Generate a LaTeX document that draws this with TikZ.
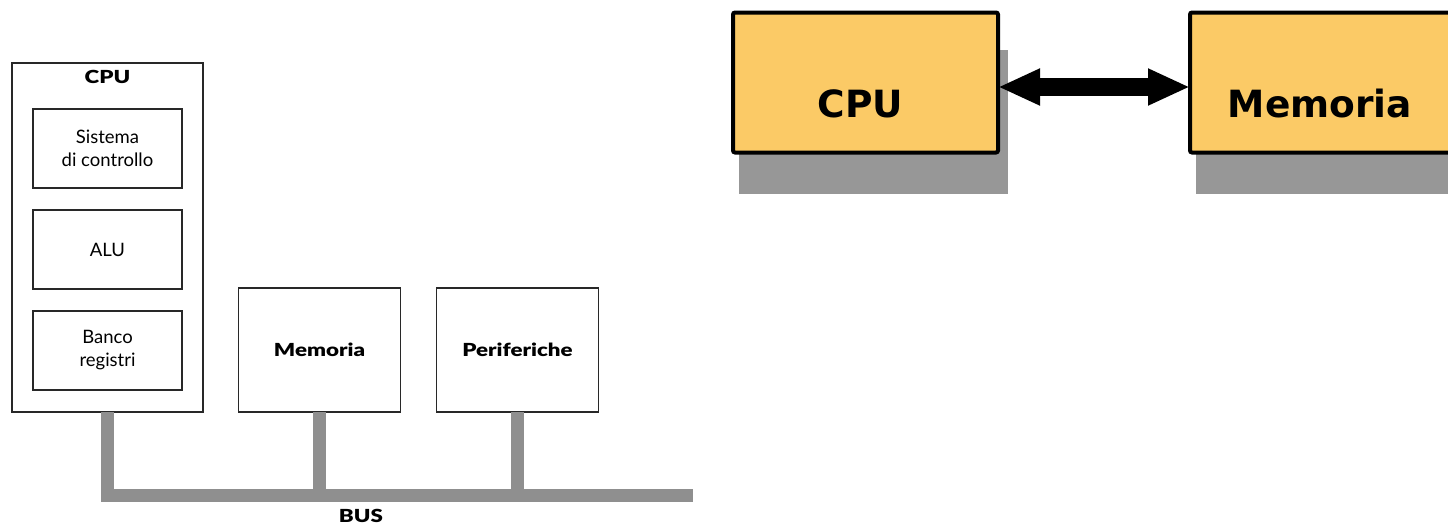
\documentclass[tikz,border=0pt]{standalone}
\usepackage{fontspec}
\setmainfont{Lato}
\newfontfamily\heavyfont{Lato Black}[FakeStretch=1.24]
\newfontfamily\verdanafont{DejaVu Sans}
\usetikzlibrary{arrows.meta}
\definecolor{boxorange}{RGB}{251,202,102}
\definecolor{shadowgray}{RGB}{151,151,151}
\definecolor{busgray}{RGB}{143,143,143}
\definecolor{outline}{RGB}{40,40,40}

\begin{document}
\begin{tikzpicture}[x=1pt,y=-1pt,
  frame/.style={draw=outline,line width=1.1pt,inner sep=0pt,outer sep=0pt},
  unit/.style={frame,minimum width=149pt,minimum height=79pt,align=center,
    font=\fontsize{18.5}{23}\selectfont},
  part/.style={frame,minimum width=162pt,minimum height=124pt,
    font=\heavyfont\fontsize{18}{20}\selectfont},
  title/.style={font=\heavyfont\fontsize{18}{20}\selectfont,anchor=base,inner sep=0pt},
  bus/.style={draw=busgray,line width=13pt},
  block/.style={draw=black,line width=4pt,fill=boxorange,rounded corners=2pt,
    minimum height=140pt,inner sep=0pt,outer sep=0pt},
  shade/.style={fill=shadowgray},
  bigtext/.style={font=\verdanafont\bfseries\fontsize{37.5}{40}\selectfont,
    anchor=base,inner sep=0pt},
  bigarrow/.style={line width=18pt,
    {Triangle[length=42pt,width=34pt]}-{Triangle[length=42pt,width=34pt]}},
]
\useasboundingbox (0,0) rectangle (1448,525);
\fill[white] (0,0) rectangle (1448,525);

% ---- bus architecture (left) ----
\node[frame,minimum width=191pt,minimum height=349pt] (cpuL) at (107.5,237.5) {};
\node[title] (cpuLt) at (107.5,83) {CPU};
\node[unit] (ctl) at (107.5,148.5) {Sistema\\di controllo};
\node[unit] (alu) at (107.5,249.5) {ALU};
\node[unit] (reg) at (107.5,350.5) {Banco\\registri};
\node[part] (memL) at (319.5,350) {Memoria};
\node[part] (perL) at (517.5,350) {Periferiche};

\coordinate (busend) at (693,495);
\draw[bus] (cpuL.south) |- (busend);
\draw[bus] (memL.south) -- (memL.south |- busend);
\draw[bus] (perL.south) -- (perL.south |- busend);
\node[title] (busL) at (361,522.5) {BUS};

% ---- CPU <-> memory (right) ----
\begin{scope}
\clip (0,0) rectangle (1448,525);
\fill[shade] (739,50) rectangle (1008,194);
\fill[shade] (1196,50) rectangle (1470,194);
\node[block,minimum width=265pt] (cpuR) at (865.5,82.5) {};
\node[block,minimum width=270pt] (memR) at (1325,82.5) {};
\node[bigtext] (cpuRt) at (860.5,117.5) {CPU};
\node[bigtext] (memRt) at (1320,117.5) {Memoria};
\draw[bigarrow] ([yshift=-4.5pt]cpuR.east) -- ([yshift=-4.5pt]memR.west);
\end{scope}
\end{tikzpicture}
\end{document}
